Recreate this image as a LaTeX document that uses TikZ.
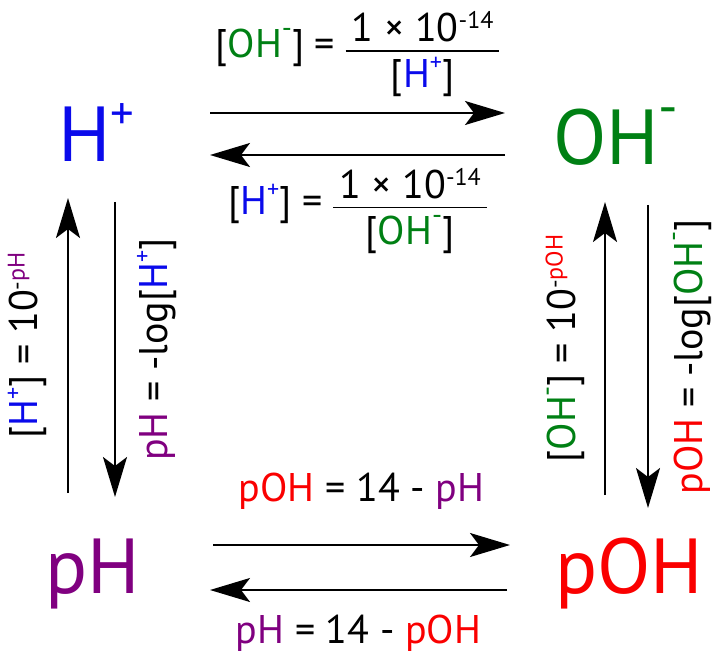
\documentclass[tikz,border=0pt]{standalone}
\usepackage{fontspec}
\usepackage{graphicx}
\setmainfont{PT Sans}
\usetikzlibrary{arrows.meta}

\definecolor{hblue}{RGB}{10,10,235}
\definecolor{ohgreen}{RGB}{0,128,20}
\definecolor{phpurple}{RGB}{128,0,128}
\definecolor{pohred}{RGB}{250,0,0}

\newcommand{\sups}[1]{\raisebox{.33em}{\scalebox{.6}{#1}}}
\newcommand{\plus}{\raisebox{.42em}{\scalebox{.6}{+}}}
\newcommand{\minus}{\raisebox{.5em}{\scalebox{.7}{-}}}
\newcommand{\cH}{\textcolor{hblue}{H\plus}}
\newcommand{\cOH}{\textcolor{ohgreen}{OH\minus}}
\newcommand{\cpH}{\textcolor{phpurple}{pH}}
\newcommand{\cpOH}{\textcolor{pohred}{pOH}}
\newcommand{\kwfrac}[1]{\raisebox{-3pt}{\renewcommand\arraystretch{0}%
  \begin{tabular}{@{\hspace{6pt}}c@{\hspace{6pt}}}1 × 10\sups{-14}\\\noalign{\vskip 8pt}\hline
  \rule{0pt}{36pt}[#1]\end{tabular}}}
\setlength{\arrayrulewidth}{1.6pt}

\begin{document}
\begin{tikzpicture}[
    x=1pt, y=-1pt,
    species/.style={inner sep=0pt, anchor=base west, font=\fontsize{78}{80}\selectfont},
    rel/.style={inner sep=0pt, font=\fontsize{40}{46}\selectfont},
    arr/.style={line width=2pt, -{Stealth[length=40pt, width=24pt, inset=9pt]}}
  ]
  \useasboundingbox (0,0) rectangle (720,655);
  % the four quantities
  \node[species, text=hblue]    (H)   at (58,162)  {H\plus};
  \node[species, text=ohgreen]  (OH)  at (553,165) {OH\minus};
  \node[species, text=phpurple] (pH)  at (45,593)  {pH};
  \node[species, text=pohred]   (pOH) at (555,593) {pOH};
  % H+ <-> OH-
  \draw[arr] ([shift={(152,-49)}]H.base west) -- node[rel, above=15pt] {[\cOH] = \kwfrac{\cH}} ([shift={(-48,-52)}]OH.base west);
  \draw[arr] ([shift={(-48,-10)}]OH.base west) -- node[rel, below=12pt] {[\cH] = \kwfrac{\cOH}} ([shift={(152,-7)}]H.base west);
  % pH <-> pOH
  \draw[arr] ([shift={(168,-48)}]pH.base west) -- node[rel, above=35pt] {\cpOH{} = 14 - \cpH} ([shift={(-45,-48)}]pOH.base west);
  \draw[arr] ([shift={(-48,-3)}]pOH.base west) -- node[rel, below=24pt] {\cpH{} = 14 - \cpOH} ([shift={(165,-3)}]pH.base west);
  % H+ <-> pH
  \draw[arr] ([shift={(23,-100)}]pH.base west) -- node[rel, rotate=90, anchor=south, outer sep=21pt] {[\cH] = 10\sups{-\cpH}} ([shift={(10,36)}]H.base west);
  \draw[arr] ([shift={(57,40)}]H.base west) -- node[rel, rotate=90, anchor=north, outer sep=22pt] {\cpH{} = -log[\cH]} ([shift={(70,-96)}]pH.base west);
  % OH- <-> pOH
  \draw[arr] ([shift={(50,-98)}]pOH.base west) -- node[rel, rotate=90, anchor=south, outer sep=20pt] {[\cOH] = 10\sups{-\cpOH}} ([shift={(52,37)}]OH.base west);
  \draw[arr] ([shift={(95,40)}]OH.base west) -- node[rel, rotate=90, anchor=north, outer sep=25pt] {\cpOH{} = -log[\cOH]} ([shift={(93,-85)}]pOH.base west);
\end{tikzpicture}
\end{document}
